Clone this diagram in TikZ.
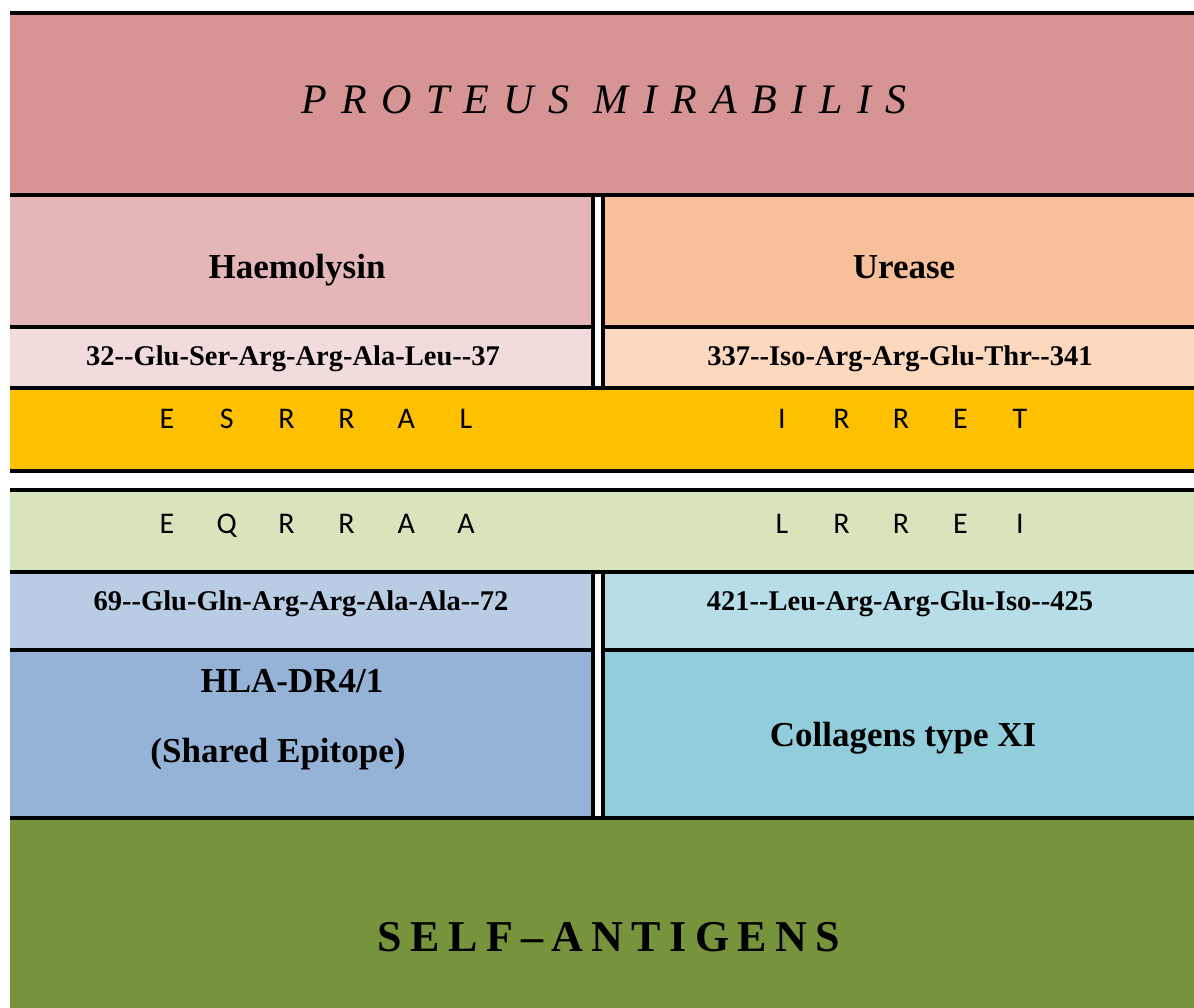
\documentclass[tikz,border=0pt]{standalone}
\usepackage{fontspec}
\setmainfont{Liberation Serif}
\newfontfamily\cellfont{Liberation Serif}
\newfontfamily\resfont{Carlito}
\newfontfamily\titlefont{Liberation Serif}[LetterSpace=34]
\newfontfamily\selffont{Liberation Serif}[LetterSpace=19]
\usetikzlibrary{positioning}
\definecolor{Mauve}{HTML}{D69495}
\definecolor{RoseMid}{HTML}{E4B6B8}
\definecolor{RosePale}{HTML}{F2DCDB}
\definecolor{PeachMid}{HTML}{F7C09A}
\definecolor{PeachPale}{HTML}{FBD8BE}
\definecolor{Gold}{HTML}{FFC000}
\definecolor{Sage}{HTML}{D8E4BC}
\definecolor{BluePale}{HTML}{B8CCE4}
\definecolor{BlueMid}{HTML}{95B3D7}
\definecolor{AquaPale}{HTML}{B7DEE8}
\definecolor{AquaMid}{HTML}{92CDDC}
\definecolor{Olive}{HTML}{77933C}

\begin{document}
\begin{tikzpicture}[
  x=1pt, y=-1pt,
  rule/.style={line width=3.5pt, draw=black},
  txt/.style={inner sep=0pt, anchor=base, text=black},
  headtext/.style={txt, font=\titlefont\itshape\fontsize{42}{48}\selectfont},
  foottext/.style={txt, font=\selffont\bfseries\fontsize{44}{50}\selectfont},
  celltext/.style={txt, font=\cellfont\bfseries\fontsize{35}{40}\selectfont},
  seqtext/.style={txt, font=\cellfont\bfseries\fontsize{28.5}{32}\selectfont},
  restext/.style={txt, font=\resfont\fontsize{30}{34}\selectfont}
]
\useasboundingbox (0,0) rectangle (1194,1008);

% bands
\fill[Mauve] (10,13) rectangle (1194,195);
\fill[RoseMid] (10,195) rectangle (593,327);
\fill[PeachMid] (603,195) rectangle (1194,327);
\fill[RosePale] (10,327) rectangle (593,388);
\fill[PeachPale] (603,327) rectangle (1194,388);
\fill[Gold] (10,388) rectangle (1194,471);
\fill[Sage] (10,490) rectangle (1194,572);
\fill[BluePale] (10,572) rectangle (593,650);
\fill[AquaPale] (603,572) rectangle (1194,650);
\fill[BlueMid] (10,650) rectangle (593,818);
\fill[AquaMid] (603,650) rectangle (1194,818);
\fill[Olive] (10,818) rectangle (1194,1008);

% rules
\foreach \y in {13,195,388,471,490,572,818}
  \draw[rule] (10,\y) -- (1194,\y);
\foreach \y in {327,650} {
  \draw[rule] (10,\y) -- (593,\y);
  \draw[rule] (603,\y) -- (1194,\y);
}
\foreach \x in {593,603} {
  \draw[rule] (\x,195) -- (\x,388);
  \draw[rule] (\x,572) -- (\x,818);
}

\node[headtext] (bug) at (604,114) {PROTEUS MIRABILIS};

\node[celltext] (haemolysin) at (297,279) {Haemolysin};
\node[celltext] (urease) at (904,279) {Urease};
\node[seqtext] (haemseq) at (293,365) {32--Glu-Ser-Arg-Arg-Ala-Leu--37};
\node[seqtext] (ureseq) at (900,365) {337--Iso-Arg-Arg-Glu-Thr--341};

\foreach \r [count=\i] in {E,S,R,R,A,L}
  \node[restext] (esrral\i) at ({167+59.8*(\i-1)},428) {\r};
\foreach \r [count=\i] in {I,R,R,E,T}
  \node[restext] (irret\i) at ({782+59.5*(\i-1)},428) {\r};
\foreach \r [count=\i] in {E,Q,R,R,A,A}
  \node[restext] (eqrraa\i) at ({167+59.8*(\i-1)},533) {\r};
\foreach \r [count=\i] in {L,R,R,E,I}
  \node[restext] (lrrei\i) at ({782+59.5*(\i-1)},533) {\r};

\node[seqtext] (hlaseq) at (301,610) {69--Glu-Gln-Arg-Arg-Ala-Ala--72};
\node[seqtext] (colseq) at (900,610) {421--Leu-Arg-Arg-Glu-Iso--425};
\node[celltext] (hla) at (292,692) {HLA-DR4/1};
\node[celltext] (epitope) at (278,762) {(Shared Epitope)};
\node[celltext] (collagen) at (903,746) {Collagens type XI};

\node[foottext] (self) at (609,951) {SELF–ANTIGENS};
\end{tikzpicture}
\end{document}
